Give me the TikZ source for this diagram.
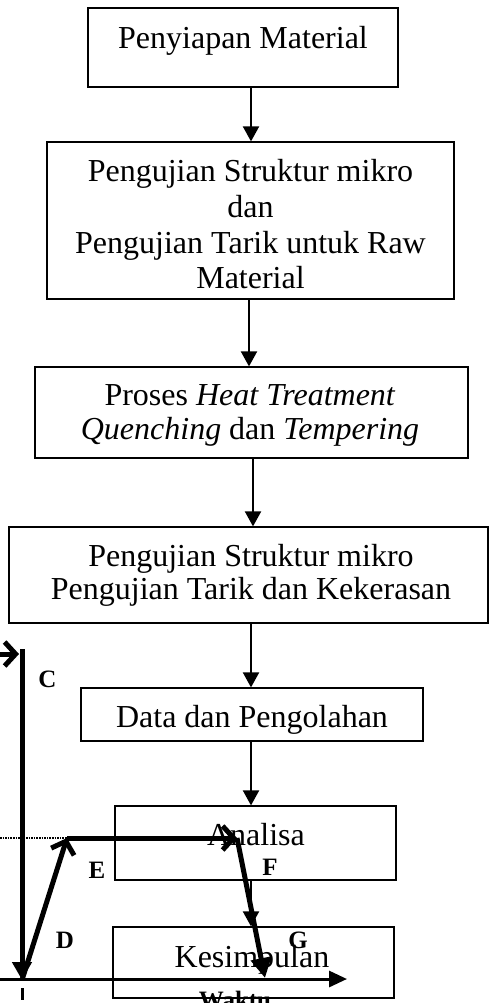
\documentclass[tikz,border=0pt]{standalone}
\usepackage{fontspec}
\setmainfont{Liberation Serif}
\usetikzlibrary{arrows.meta}
\begin{document}
\begin{tikzpicture}[x=1pt,y=-1pt,
  box/.style={draw, line width=1.2pt, rectangle, inner sep=0pt},
  txt/.style={anchor=base, inner sep=0pt, font=\fontsize{32}{36}\selectfont},
  lbl/.style={anchor=base, inner sep=0pt, font=\fontsize{25}{28}\selectfont\bfseries},
  flow/.style={line width=2pt, -{Triangle[length=15pt,width=16pt]}},
  gline/.style={line width=5pt},
  barb/.style={-{Straight Barb[length=11pt,width=24pt]}},
  tri/.style={-{Triangle[length=18pt,width=19pt]}}
]
\useasboundingbox (0,0) rectangle (489,1003);
\clip (0,0) rectangle (489,1003);

% boxes
\node[box, minimum width=310pt, minimum height=79pt] (b1) at (243,47.5) {};
\node[box, minimum width=407pt, minimum height=157pt] (b2) at (250.5,220.5) {};
\node[box, minimum width=433pt, minimum height=91pt] (b3) at (251.5,412.5) {};
\node[box, minimum width=479pt, minimum height=96pt] (b4) at (248.5,575) {};
\node[box, minimum width=342pt, minimum height=53pt] (b5) at (252,714.5) {};
\node[box, minimum width=281pt, minimum height=74pt] (b6) at (255.5,843) {};
\node[box, minimum width=281pt, minimum height=71pt] (b7) at (253.5,962.5) {};

% texts
\node[txt] (t1) at (243,49) {Penyiapan Material};
\node[txt] (t2a) at (250.5,182) {Pengujian Struktur mikro};
\node[txt] (t2b) at (250.5,217.5) {dan};
\node[txt] (t2c) at (250.5,253) {Pengujian Tarik untuk Raw};
\node[txt] (t2d) at (250.5,288.5) {Material};
\node[txt] (t3a) at (250,405) {Proses \textit{Heat Treatment}};
\node[txt] (t3b) at (250,439) {\textit{Quenching} dan \textit{Tempering}};
\node[txt] (t4a) at (251,566) {Pengujian Struktur mikro};
\node[txt] (t4b) at (251,599) {Pengujian Tarik dan Kekerasan};
\node[txt] (t5) at (252,727) {Data dan Pengolahan};
\node[txt] (t6) at (256,845) {Analisa};
\node[txt] (t7) at (252,967) {Kesimpulan};

% flow arrows
\coordinate (ax) at (251,0);
\draw[flow] (b1.south -| ax) -- (b2.north -| ax);
\draw[flow] ([xshift=-2pt]b2.south -| ax) -- ([xshift=-2pt]b3.north -| ax);
\draw[flow] ([xshift=2pt]b3.south -| ax) -- ([xshift=2pt]b4.north -| ax);
\draw[flow] (b4.south -| ax) -- (b5.north -| ax);
\draw[flow] (b5.south -| ax) -- (b6.north -| ax);
\draw[flow] (b6.south -| ax) -- (b7.north -| ax);

% graph
\coordinate (B0) at (0,654);
\coordinate (Bend) at (19,654);
\coordinate (Ctop) at (22,649);
\coordinate (O) at (22,980);
\coordinate (Dtop) at (67,838);
\coordinate (Eend) at (237,838);
\coordinate (Fend) at (265,978);
\coordinate (X0) at (0,979);
\coordinate (Xend) at (347,979);
\coordinate (L0) at (0,838);
\coordinate (Q0) at (22,988);
\coordinate (Q1) at (22,1000);

\draw[line width=3pt, -{Triangle[length=18pt,width=16pt]}] (X0) -- (Xend);
\draw[gline, tri] (Ctop) -- (O);
\draw[gline, barb] (B0) -- (Bend);
\draw[gline, barb] (O) -- (Dtop);
\draw[gline, barb] (Dtop) -- (Eend);
\draw[gline, -{Triangle[length=20pt,width=20pt]}] (Eend) -- (Fend);
\draw[line width=1.6pt, dash pattern=on 1.6pt off 1pt] (L0) -- (Dtop);
\draw[line width=3pt] (Q0) -- (Q1);

% labels
\node[lbl] (lC) at (47.5,687) {C};
\node[lbl] (lD) at (65,948) {D};
\node[lbl] (lE) at (97,878) {E};
\node[lbl] (lF) at (270,875) {F};
\node[lbl] (lG) at (298,948) {G};
\node[lbl] (lW) at (235,1008) {Waktu};
\end{tikzpicture}
\end{document}
